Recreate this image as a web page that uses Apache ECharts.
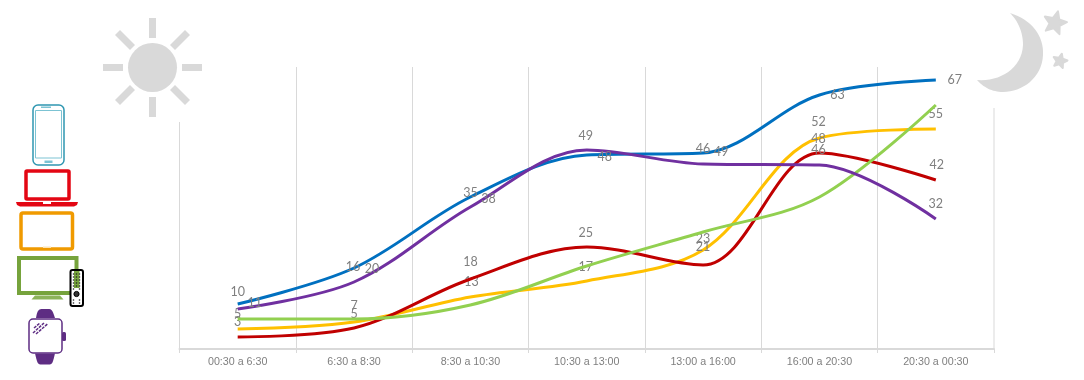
<!DOCTYPE html>
<html><head><meta charset="utf-8">
<style>html,body{margin:0;padding:0;background:#fff}#c{width:1084px;height:380px}</style>
<script src="https://cdn.jsdelivr.net/npm/echarts@6/dist/echarts.min.js"></script>
</head><body><div id="c"></div>
<script>
const categories = ['00:30 a 6:30','6:30 a 8:30','8:30 a 10:30','10:30 a 13:00','13:00 a 16:00','16:00 a 20:30','20:30 a 00:30'];
const blue   = [11.25,20.25,38,48.5,49,63.5,67.25];
const purple = [10,16.75,35.5,49.75,46.25,46,32.5];
const green  = [7.5,7.5,11,20.75,29.25,38,61];
const yellow = [5,6.75,13,17,24.75,52.75,55];
const red    = [3,5.25,17.5,25.5,21,49,42.25];
const blueLabels   = [10,16,35,49,46,63,67];
const purpleLabels = [11,20,38,48,49,46,32];
const yellowLabels = [5,7,13,17,23,52,55];
const redLabels    = [3,5,18,25,21,48,42];
// label nudges in pixels, per point
const blueNudge   = [[0,-12],[-1,-1],[0,-4],[-1,-19],[0,-4],[18,0],[19,0]];
const purpleNudge = [[17,-6],[18,-13],[18,-8],[18,7],[18,-12],[-1,-15],[0,-15]];
const yellowNudge = [[0,-15],[0,-16],[1,-15],[-1,-14],[0,-11],[-1,-16],[0,-15]];
const redNudge    = [[0,-15],[0,-14],[0,-17],[-1,-14],[0,-18],[-1,-14],[1,-15]];

const GRID='#d9d9d9', TXT='#7f7f7f';
function pts(vals,labels,nudge){
  return vals.map((v,i)=>labels?{value:v,label:{show:true,position:'inside',formatter:String(labels[i]),offset:nudge[i],
    color:TXT,fontSize:12.5,fontFamily:'Lato, Open Sans, sans-serif'}}:v);
}
function line(name,vals,color,labels,nudge,z){
  return {name,type:'line',data:pts(vals,labels,nudge),smooth:0.34,showSymbol:true,symbol:'circle',symbolSize:0,
    itemStyle:{color:'transparent'},
    lineStyle:{color,width:3,cap:'butt'},z:z,silent:true,animation:false};
}
function star(cx,cy,R,r,rot){
  const p=[];for(let i=0;i<10;i++){const a=rot+i*Math.PI/5,q=i%2?r:R;p.push([cx+q*Math.sin(a),cy-q*Math.cos(a)]);}
  return {type:'polygon',shape:{points:p},style:{fill:GRID,stroke:GRID,lineWidth:2,lineJoin:'round'}};
}
// outline sampled from cubic segments: start point, then [c1x,c1y,c2x,c2y,x,y] ...
function curve(start,segs){
  const p=[start];let a=start;
  segs.forEach(s=>{for(let k=1;k<=16;k++){const t=k/16,u=1-t;
    p.push([u*u*u*a[0]+3*u*u*t*s[0]+3*u*t*t*s[2]+t*t*t*s[4],u*u*u*a[1]+3*u*u*t*s[1]+3*u*t*t*s[3]+t*t*t*s[5]]);}
    a=[s[4],s[5]];});
  return p;
}
const g=[];
// sun
g.push({type:'circle',shape:{cx:152.5,cy:67.5,r:24.5},style:{fill:GRID}});
[[149,18,7,20],[149,97,7,20],[103,64,20,7],[182,64,20,7]].forEach(r=>g.push({type:'rect',shape:{x:r[0],y:r[1],width:r[2],height:r[3]},style:{fill:GRID}}));
[[125,40,1],[180,40,-1],[125,95,-1],[180,95,1]].forEach(d=>g.push({type:'line',shape:{x1:d[0]-7.5,y1:d[1]-7.5*d[2],x2:d[0]+7.5,y2:d[1]+7.5*d[2]},style:{stroke:GRID,lineWidth:7}}));
// moon and stars
g.push({type:'polygon',shape:{points:curve([1010,13],[[1032,20,1044,36,1043,55],[1042,78,1022,92,1003,92],[992,92,983,87,977,80],[1000,82,1022,68,1023,45],[1023,32,1018,21,1010,13]])},style:{fill:GRID}});
g.push(star(1055,23,12,5.5,0.25));
g.push(star(1060,61,7.5,3.5,0.25));
// phone
const T='#2f97b1';
g.push({type:'rect',shape:{x:33,y:105,width:31,height:60,r:5},style:{fill:'#fff',stroke:T,lineWidth:1.5}});
g.push({type:'rect',shape:{x:35.5,y:110.5,width:26,height:47.5},style:{fill:'#fff',stroke:'#7cc3d3',lineWidth:1}});
g.push({type:'rect',shape:{x:44.5,y:160.5,width:8,height:2.5},style:{fill:'#7cc3d3'}});
g.push({type:'rect',shape:{x:41,y:106.5,width:10,height:1.5},style:{fill:'#7cc3d3'}});
// laptop
const R='#e30613';
g.push({type:'rect',shape:{x:26,y:171,width:43,height:28,r:1},style:{fill:'#fff',stroke:R,lineWidth:3.5}});
g.push({type:'polygon',shape:{points:[[16,202],[78,202],[77,205],[74,206.5],[20,206.5],[17,205]]},style:{fill:R}});
g.push({type:'rect',shape:{x:43,y:202,width:8,height:2},style:{fill:'#fff'}});
// tablet
const O='#f09a00';
g.push({type:'rect',shape:{x:21,y:213,width:51.5,height:36,r:2},style:{fill:'#fff',stroke:O,lineWidth:3.5}});
g.push({type:'rect',shape:{x:43,y:246.5,width:8,height:1.5},style:{fill:'#fbe3b5'}});
// tv
const V='#76a33c';
g.push({type:'rect',shape:{x:19,y:258,width:57.5,height:35},style:{fill:'#fff',stroke:V,lineWidth:4}});
g.push({type:'polygon',shape:{points:[[35,295.5],[60,295.5],[63.5,299.5],[31.5,299.5]]},style:{fill:'#8cb35a'}});
// remote
g.push({type:'rect',shape:{x:70.5,y:270,width:12.5,height:36,r:2},style:{fill:'#fff',stroke:'#000',lineWidth:2}});
g.push({type:'rect',shape:{x:74,y:271,width:5.5,height:17},style:{fill:V}});
[274,277,280,283,286,289,300,303].forEach(y=>[73.5,79.5].forEach(x=>g.push({type:'circle',shape:{cx:x,cy:y,r:0.8},style:{fill:'#222'}})));
[274,277,280,283,286].forEach(y=>g.push({type:'circle',shape:{cx:76.5,cy:y,r:0.8},style:{fill:'#222'}}));
g.push({type:'circle',shape:{cx:76.5,cy:294,r:2.6},style:{fill:'#333',stroke:'#000',lineWidth:1}});
// watch
const P='#5e2d83';
g.push({type:'polygon',shape:{points:curve([36,318],[[37,312,38,309,42,309],[44,309,46,309,49,309],[52,309,53,312,55,318]])},style:{fill:P}});
g.push({type:'polygon',shape:{points:curve([35,353.5],[[37,361,37,364.5,41,364.5],[43,364.5,46,364.5,49,364.5],[53,364.5,53,361,55,353.5]])},style:{fill:P}});
g.push({type:'rect',shape:{x:62,y:332,width:4,height:9,r:1.5},style:{fill:P}});
g.push({type:'rect',shape:{x:29,y:319,width:33,height:34,r:4},style:{fill:'#fff',stroke:P,lineWidth:1.5}});
[[33,333,44,323],[36,334,48,323.5],[34,328,40,323]].forEach(l=>g.push({type:'line',shape:{x1:l[0],y1:l[1],x2:l[2],y2:l[3]},style:{stroke:P,lineWidth:1.5,lineDash:[3,1]}}));

const chart=echarts.init(document.getElementById('c'),null,{renderer:'canvas'});
chart.setOption({
  animation:false,backgroundColor:'#fff',
  grid:{left:179.5,right:90,top:67,bottom:31,containLabel:false},
  xAxis:[{type:'category',data:categories,boundaryGap:true,
    axisLine:{lineStyle:{color:GRID,width:2}},
    axisTick:{show:true,length:4,lineStyle:{color:GRID,width:1}},
    axisLabel:{color:TXT,fontSize:10.7,fontFamily:'Liberation Sans, Arial, sans-serif',margin:8,interval:0},
    splitLine:{show:true,showMinLine:false,showMaxLine:false,lineStyle:{color:GRID,width:1}}},
    {type:'value',min:-0.5,max:6.5,show:false,splitLine:{show:false}}],
  yAxis:{type:'value',min:0,max:70.5,show:false,splitLine:{show:false}},
  series:[
    {type:'line',xAxisIndex:1,data:[[-0.5,0],[-0.5,56.75]],showSymbol:false,lineStyle:{color:GRID,width:1},silent:true},
    {type:'line',xAxisIndex:1,data:[[6.5,0],[6.5,60.25]],showSymbol:false,lineStyle:{color:GRID,width:1},silent:true},
    line('Smartphone',blue,'#0070c0',blueLabels,blueNudge,5),
    line('Laptop',red,'#c00000',redLabels,redNudge,3),
    line('Tablet',yellow,'#ffc000',yellowLabels,yellowNudge,2),
    line('TV',green,'#92d050',null,null,4),
    line('Smartwatch',purple,'#7030a0',purpleLabels,purpleNudge,6)
  ],
  graphic:{elements:g.map(e=>Object.assign({silent:true},e))}
});
</script></body></html>
